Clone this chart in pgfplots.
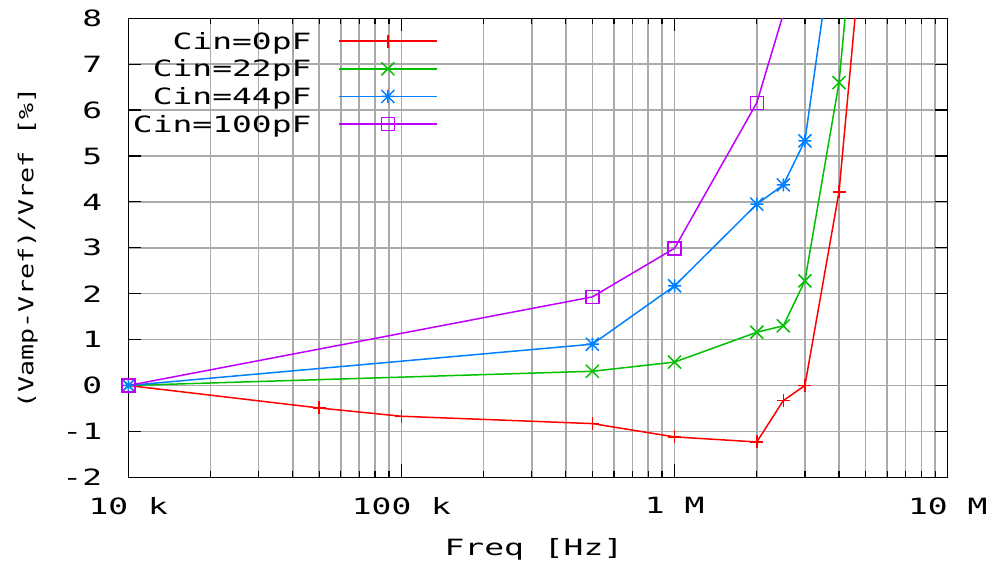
\documentclass[border=0pt]{standalone}
\usepackage{fontspec}
\setmainfont{DejaVu Sans Mono}[FakeStretch=1.47]
\newfontfamily\ylabfont{DejaVu Sans Mono}[FakeStretch=1.3]
\usepackage{pgfplots}
\pgfplotsset{compat=1.18}

\definecolor{gpred}{RGB}{255,0,0}
\definecolor{gpgreen}{RGB}{0,192,0}
\definecolor{gpblue}{RGB}{0,128,255}
\definecolor{gppurple}{RGB}{192,0,255}
\definecolor{gpgrid}{RGB}{170,170,170}

\newcommand{\gpsize}{\fontsize{22.5}{27}\selectfont}

% gnuplot style point types
\pgfdeclareplotmark{gpplus}{%
  \pgfpathmoveto{\pgfqpoint{-\pgfplotmarksize}{0pt}}\pgfpathlineto{\pgfqpoint{\pgfplotmarksize}{0pt}}%
  \pgfpathmoveto{\pgfqpoint{0pt}{-\pgfplotmarksize}}\pgfpathlineto{\pgfqpoint{0pt}{\pgfplotmarksize}}%
  \pgfusepathqstroke}
\pgfdeclareplotmark{gpcross}{%
  \pgfpathmoveto{\pgfqpoint{-\pgfplotmarksize}{-\pgfplotmarksize}}\pgfpathlineto{\pgfqpoint{\pgfplotmarksize}{\pgfplotmarksize}}%
  \pgfpathmoveto{\pgfqpoint{-\pgfplotmarksize}{\pgfplotmarksize}}\pgfpathlineto{\pgfqpoint{\pgfplotmarksize}{-\pgfplotmarksize}}%
  \pgfusepathqstroke}
\pgfdeclareplotmark{gpstar}{%
  \pgfpathmoveto{\pgfqpoint{-\pgfplotmarksize}{0pt}}\pgfpathlineto{\pgfqpoint{\pgfplotmarksize}{0pt}}%
  \pgfpathmoveto{\pgfqpoint{0pt}{-\pgfplotmarksize}}\pgfpathlineto{\pgfqpoint{0pt}{\pgfplotmarksize}}%
  \pgfpathmoveto{\pgfqpoint{-\pgfplotmarksize}{-\pgfplotmarksize}}\pgfpathlineto{\pgfqpoint{\pgfplotmarksize}{\pgfplotmarksize}}%
  \pgfpathmoveto{\pgfqpoint{-\pgfplotmarksize}{\pgfplotmarksize}}\pgfpathlineto{\pgfqpoint{\pgfplotmarksize}{-\pgfplotmarksize}}%
  \pgfusepathqstroke}

\pgfplotsset{gpline/.style={line width=1.5bp, mark size=6.5bp}}

\begin{document}
\begin{tikzpicture}
\useasboundingbox (-128.3bp,-83.7bp) rectangle (861.7bp,477.3bp);
\begin{axis}[
  at={(0,0)}, anchor=south west,
  scale only axis, width=819.4bp, height=459bp,
  xmode=log, xmin=1e4, xmax=1e7, ymin=-2, ymax=8,
  xtick={1e4,1e5,1e6,1e7}, xticklabels={10 k,100 k,1 M,10 M},
  minor xtick={2e4,3e4,4e4,5e4,6e4,7e4,8e4,9e4,2e5,3e5,4e5,5e5,6e5,7e5,8e5,9e5,2e6,3e6,4e6,5e6,6e6,7e6,8e6,9e6},
  ytick={-2,-1,0,1,2,3,4,5,6,7,8}, yticklabels={-2,-1,0,1,2,3,4,5,6,7,8},
  xmajorgrids, xminorgrids, ymajorgrids,
  grid style={gpgrid, line width=1.5bp},
  minor grid style={gpgrid, line width=1.5bp},
  tick style={black, line width=1.2bp},
  major tick length=13bp, minor tick length=6bp,
  axis line style={black, line width=1.3bp},
  x tick label style={font=\gpsize, inner sep=0pt, anchor=north, yshift=-20bp},
  y tick label style={font=\gpsize, inner sep=0pt, anchor=east, xshift=-26bp},
  xlabel={Freq [Hz]}, ylabel={(Vamp-Vref)/Vref [\%]},
  every axis x label/.style={at={(rel axis cs:0.495,0)}, anchor=base, yshift=-77.7bp, font=\gpsize},
  every axis y label/.style={at={(rel axis cs:0,0.5)}, anchor=base, xshift=-95bp, rotate=90, font=\ylabfont\fontsize{20.6}{25}\selectfont},
  legend plot pos=right, legend cell align=right,
  legend image code/.code={\draw[line width=1.5bp, mark size=6.5bp, mark repeat=2, mark phase=2, #1] plot coordinates {(0bp,0bp) (48.65bp,0bp) (97.3bp,0bp)};},
  legend style={at={(rel axis cs:0.3771,0.9682)}, anchor=north east, draw=none, fill=none,
    inner sep=0pt, outer sep=0pt, row sep=11.3bp, column sep=27bp,
    nodes={inner sep=0pt, font=\gpsize, text height=16.4bp, text depth=0bp}},
]
\addplot[gpline, gpred, mark=gpplus] coordinates {
  (1e4,0) (5e4,-0.49) (1e5,-0.67) (5e5,-0.83) (1e6,-1.12) (2e6,-1.23)
  (2.5e6,-0.33) (3e6,0.0) (4e6,4.22) (5e6,10.5)};
\addlegendentry{Cin=0pF}
\addplot[gpline, gpgreen, mark=gpcross] coordinates {
  (1e4,0) (5e5,0.31) (1e6,0.51) (2e6,1.16) (2.5e6,1.30) (3e6,2.28)
  (4e6,6.60) (5e6,12.8)};
\addlegendentry{Cin=22pF}
\addplot[gpline, gpblue, mark=gpstar] coordinates {
  (1e4,0) (5e5,0.90) (1e6,2.17) (2e6,3.95) (2.5e6,4.37) (3e6,5.33) (4e6,10.6)};
\addlegendentry{Cin=44pF}
\addplot[gpline, gppurple, mark=square] coordinates {
  (1e4,0) (5e5,1.93) (1e6,2.99) (2e6,6.16) (3e6,9.67)};
\addlegendentry{Cin=100pF}
\end{axis}
\end{tikzpicture}
\end{document}
